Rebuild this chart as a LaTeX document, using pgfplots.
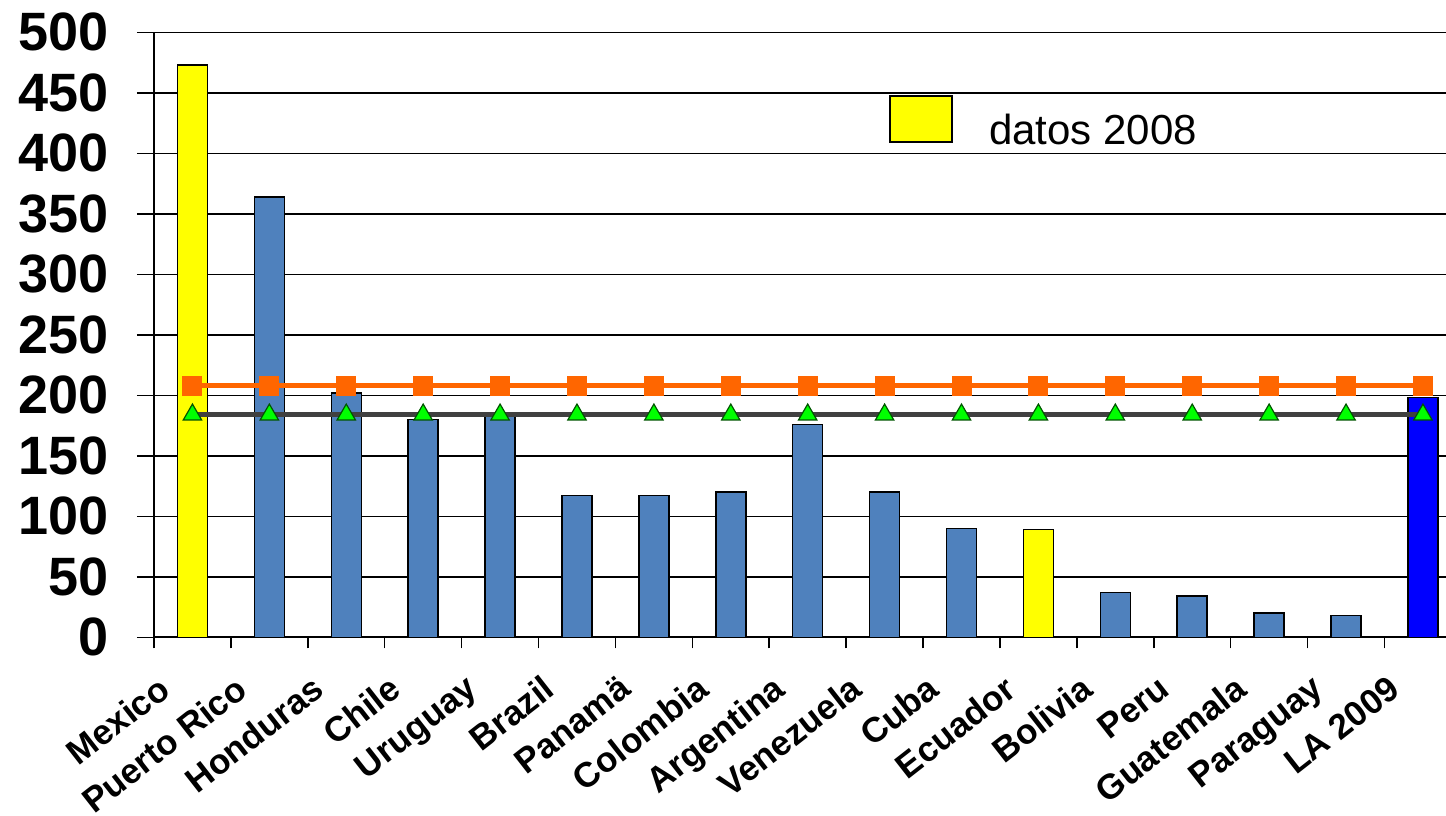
\documentclass[border=0pt]{standalone}
\usepackage{pgfplots}
\pgfplotsset{compat=1.18}
\usepackage{fontspec}
\setmainfont{Liberation Sans}
\definecolor{barblue}{HTML}{4F81BD}
\definecolor{laBlue}{HTML}{0000FF}
\definecolor{yel}{HTML}{FFFF00}
\definecolor{orangeL}{HTML}{FF6600}
\definecolor{grayL}{HTML}{404040}
\definecolor{greenM}{HTML}{00FF00}
\definecolor{greenD}{HTML}{005500}
\begin{document}
\begin{tikzpicture}
\path[use as bounding box] (0,0) rectangle (723pt,407.5pt);
\begin{axis}[
  at={(77pt,88.85pt)}, anchor=south west,
  scale only axis, width=646pt, height=302.5pt,
  xmin=-0.5, xmax=16.30, ymin=0, ymax=500,
  axis lines*=left,
  axis line style={-, black, line width=1pt},
  ytick={0,50,...,500},
  ymajorgrids, grid style={black, line width=0.75pt},
  tick align=outside,
  major tick length=8.5pt,
  ytick style={black, line width=0.75pt},
  /pgf/number format/assume math mode=true,
  yticklabel style={font=\bfseries\fontsize{27}{27}\selectfont, anchor=east, inner sep=0pt, xshift=-14pt},
  xtick={0,...,16},
  xticklabels={Mexico,Puerto Rico,Honduras,Chile,Uruguay,Brazil,Panamä,Colombia,Argentina,Venezuela,Cuba,Ecuador,Bolivia,Peru,Guatemala,Paraguay,LA 2009},
  xtick style={draw=none},
  xticklabel style={font=\bfseries\fontsize{17.5}{17.5}\selectfont, xshift=-18pt, yshift=-9.5pt, rotate=38, anchor=north east, inner sep=0pt},
  extra x ticks={-0.5,0.5,...,15.5},
  extra x tick labels={},
  extra x tick style={xtick style={draw=black, line width=0.75pt}, major tick length=5.5pt},
  legend style={at={(0.5689,0.853)}, anchor=west, draw=none, fill=none, inner sep=0pt,
     font=\fontsize{21}{21}\selectfont, column sep=0pt,
     nodes={inner sep=0pt}},
  legend cell align=left,
]
\addplot[ybar, bar width=15pt, bar shift=0pt, fill=yel, draw=black, line width=0.75pt, forget plot]
  coordinates {(0,473) (11,89)};
\addplot[ybar, bar width=15pt, bar shift=0pt, fill=barblue, draw=black, line width=0.75pt, forget plot]
  coordinates {(1,364) (2,202) (3,180) (4,184) (5,117) (6,117) (7,120) (8,176) (9,120) (10,90) (12,37) (13,34) (14,20) (15,18)};
\addplot[ybar, bar width=15pt, bar shift=0pt, fill=laBlue, draw=black, line width=0.75pt, forget plot]
  coordinates {(16,198)};
\addplot[orangeL, line width=2.5pt, mark=square*, mark size=4.75pt, mark options={fill=orangeL, draw=orangeL, line width=0pt}, forget plot]
  coordinates {(0,208) (1,208) (2,208) (3,208) (4,208) (5,208) (6,208) (7,208) (8,208) (9,208) (10,208) (11,208) (12,208) (13,208) (14,208) (15,208) (16,208)};
\addplot[grayL, line width=2.5pt, mark=triangle*, mark size=5.3pt, mark options={fill=greenM, draw=greenD, line width=0.6pt}, forget plot]
  coordinates {(0,184) (1,184) (2,184) (3,184) (4,184) (5,184) (6,184) (7,184) (8,184) (9,184) (10,184) (11,184) (12,184) (13,184) (14,184) (15,184) (16,184)};
\addlegendimage{legend image code/.code={\draw[fill=yel, draw=black, line width=0.75pt] (0pt,-5.5pt) rectangle (31pt,17.5pt); \path[draw=none, fill=none] (0pt,0pt) -- (49.5pt,0pt);}}
\addlegendentry{datos 2008}
\end{axis}
\end{tikzpicture}
\end{document}
